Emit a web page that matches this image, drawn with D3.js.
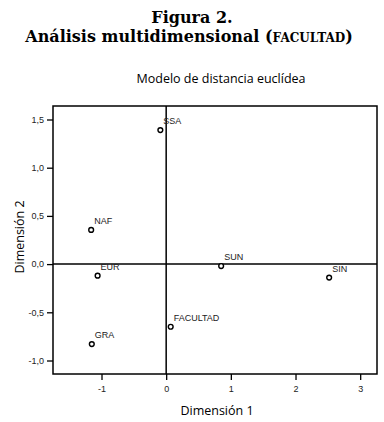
<!DOCTYPE html>
<html>
<head>
<meta charset="utf-8">
<script src="https://cdn.jsdelivr.net/npm/d3@7"></script>
<style>
  body { margin: 0; background: #fff; }
</style>
</head>
<body>
<div id="chart"></div>
<script>
// points
const labels = ["SSA", "NAF", "EUR", "GRA", "FACULTAD", "SUN", "SIN"];
const dim1 = [-0.09, -1.16, -1.06, -1.15, 0.07, 0.85, 2.52];
const dim2 = [1.39, 0.355, -0.12, -0.83, -0.65, -0.02, -0.14];

const xTicks = [-1, 0, 1, 2, 3];
const yTicks = [-1.0, -0.5, 0.0, 0.5, 1.0, 1.5];

const data = labels.map((d, i) => ({ name: d, x: dim1[i], y: dim2[i] }));

const width = 384;
const height = 422;
const margin = { top: 106, right: 7, bottom: 48, left: 53 };

const svg = d3.select("#chart")
  .append("svg")
  .attr("width", width)
  .attr("height", height);

const x = d3.scaleLinear()
  .domain([-1.75, 3.26])
  .range([margin.left, width - margin.right]);

const y = d3.scaleLinear()
  .domain([-1.14, 1.64])
  .range([height - margin.bottom, margin.top]);

const fmt = d => d3.format(".1f")(d).replace(".", ",").replace("−", "-");

// titles
svg.append("text")
  .attr("x", 192)
  .attr("y", 23)
  .attr("text-anchor", "middle")
  .style("font-family", "'DejaVu Serif', serif")
  .style("font-weight", "bold")
  .style("font-size", "16px")
  .text("Figura 2.");

const t2 = svg.append("text")
  .attr("x", 189)
  .attr("y", 42)
  .attr("text-anchor", "middle")
  .style("font-family", "'DejaVu Serif', serif")
  .style("font-weight", "bold")
  .style("font-size", "16px");
t2.append("tspan").text("Análisis multidimensional (");
t2.append("tspan").style("font-size", "12px").text("FACULTAD");
t2.append("tspan").text(")");

svg.append("text")
  .attr("x", 221)
  .attr("y", 83)
  .attr("text-anchor", "middle")
  .style("font-family", "'Open Sans', sans-serif")
  .style("font-size", "12.5px")
  .text("Modelo de distancia euclídea");

// frame
svg.append("rect")
  .attr("x", x.range()[0])
  .attr("y", y.range()[1])
  .attr("width", x.range()[1] - x.range()[0])
  .attr("height", y.range()[0] - y.range()[1])
  .attr("fill", "none")
  .attr("stroke", "#000")
  .attr("stroke-width", 1.5);

// axes
const xAxis = svg.append("g")
  .attr("transform", `translate(0,${height - margin.bottom})`)
  .call(d3.axisBottom(x).tickValues(xTicks).tickSize(6).tickPadding(6).tickFormat(d => String(d)));

const yAxis = svg.append("g")
  .attr("transform", `translate(${margin.left},0)`)
  .call(d3.axisLeft(y).tickValues(yTicks).tickSize(6).tickPadding(3).tickFormat(fmt));

[xAxis, yAxis].forEach(g => {
  g.select(".domain").remove();
  g.selectAll(".tick line").attr("stroke", "#000").attr("stroke-width", 1.3);
  g.selectAll(".tick text")
    .attr("fill", "#222")
    .style("font-family", "'Liberation Sans', Arial, sans-serif")
    .style("font-size", "9px");
});

// zero lines
svg.append("line")
  .attr("x1", x(0)).attr("x2", x(0))
  .attr("y1", y.range()[1]).attr("y2", y.range()[0])
  .attr("stroke", "#000").attr("stroke-width", 1.5);

svg.append("line")
  .attr("x1", x.range()[0]).attr("x2", x.range()[1])
  .attr("y1", y(0)).attr("y2", y(0))
  .attr("stroke", "#000").attr("stroke-width", 1.5);

// axis titles
svg.append("text")
  .attr("x", 217)
  .attr("y", 415)
  .attr("text-anchor", "middle")
  .style("font-family", "'Open Sans', sans-serif")
  .style("font-size", "12.5px")
  .text("Dimensión 1");

svg.append("text")
  .attr("transform", "rotate(-90)")
  .attr("x", -237)
  .attr("y", 24)
  .attr("text-anchor", "middle")
  .style("font-family", "'Open Sans', sans-serif")
  .style("font-size", "12.5px")
  .text("Dimensión 2");

// points
svg.selectAll("circle.pt")
  .data(data)
  .enter()
  .append("circle")
  .attr("class", "pt")
  .attr("cx", d => x(d.x))
  .attr("cy", d => y(d.y))
  .attr("r", 2.4)
  .attr("fill", "#fff")
  .attr("stroke", "#000")
  .attr("stroke-width", 1.4);

svg.selectAll("text.lbl")
  .data(data)
  .enter()
  .append("text")
  .attr("class", "lbl")
  .attr("x", d => x(d.x) + 3)
  .attr("y", d => y(d.y) - 6)
  .attr("fill", "#222")
  .style("font-family", "'Liberation Sans', Arial, sans-serif")
  .style("font-size", "9px")
  .text(d => d.name);
</script>
</body>
</html>
